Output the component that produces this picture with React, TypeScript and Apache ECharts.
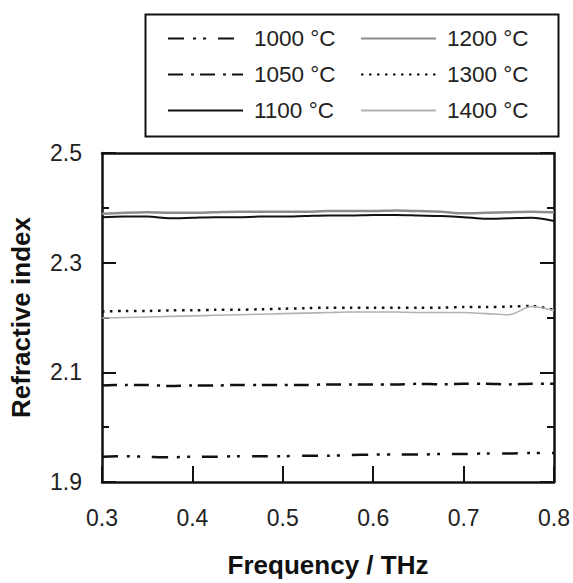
import React, { useEffect, useRef } from "react";
import * as echarts from "echarts";

const frequency = [0.3, 0.325, 0.35, 0.375, 0.4, 0.425, 0.45, 0.475, 0.5, 0.525, 0.55, 0.575, 0.6, 0.625, 0.65, 0.675, 0.7, 0.725, 0.75, 0.775, 0.8];

const n1000 = [1.946, 1.947, 1.946, 1.945, 1.946, 1.946, 1.947, 1.947, 1.947, 1.948, 1.948, 1.949, 1.95, 1.95, 1.95, 1.951, 1.951, 1.952, 1.952, 1.953, 1.953];
const n1050 = [2.076, 2.077, 2.077, 2.075, 2.076, 2.076, 2.077, 2.077, 2.077, 2.077, 2.078, 2.078, 2.078, 2.078, 2.079, 2.078, 2.079, 2.079, 2.078, 2.079, 2.079];
const n1100 = [2.383, 2.384, 2.384, 2.381, 2.382, 2.383, 2.383, 2.384, 2.384, 2.385, 2.386, 2.386, 2.387, 2.387, 2.386, 2.385, 2.383, 2.38, 2.381, 2.382, 2.376];
const n1200 = [2.389, 2.391, 2.392, 2.391, 2.391, 2.392, 2.393, 2.393, 2.393, 2.393, 2.394, 2.394, 2.394, 2.395, 2.394, 2.393, 2.39, 2.391, 2.392, 2.393, 2.392];
const n1300 = [2.211, 2.212, 2.212, 2.213, 2.213, 2.214, 2.214, 2.215, 2.216, 2.217, 2.218, 2.218, 2.218, 2.218, 2.218, 2.218, 2.219, 2.219, 2.22, 2.221, 2.214];
const n1400 = [2.199, 2.2, 2.201, 2.202, 2.203, 2.204, 2.205, 2.206, 2.207, 2.208, 2.209, 2.21, 2.21, 2.21, 2.209, 2.209, 2.209, 2.207, 2.205, 2.22, 2.213];

const seriesNames = ["1000 °C", "1050 °C", "1100 °C", "1200 °C", "1300 °C", "1400 °C"];
const xTicks = [0.3, 0.4, 0.5, 0.6, 0.7, 0.8];
const yTicks = [1.9, 2.1, 2.3, 2.5];

const FONT = "'Liberation Sans', Arial, Helvetica, sans-serif";
const INK = "#111";

function pairs(vals: number[]) {
  return frequency.map((f, i) => [f, vals[i]]);
}

export default function App() {
  const ref = useRef<HTMLDivElement>(null);
  useEffect(() => {
    if (!ref.current) return;
    const chart = echarts.init(ref.current, null, { renderer: "svg" });
    const styles: any[] = [
      { color: INK, width: 2.5, type: [16, 9, 3, 7, 3, 12] },
      { color: INK, width: 2.5, type: [15, 8, 3, 6] },
      { color: INK, width: 2, type: "solid" },
      { color: "#8c8c8c", width: 2.5, type: "solid" },
      { color: INK, width: 2.5, type: [2.5, 5.5] },
      { color: "#b2b2b2", width: 1.6, type: "solid" },
    ];
    const data = [n1000, n1050, n1100, n1200, n1300, n1400];
    const legendCommon = {
      orient: "vertical",
      itemWidth: 75,
      itemHeight: 14,
      itemGap: 13,
      top: 27,
      padding: 0,
      itemStyle: { opacity: 0 },
      textStyle: { fontFamily: FONT, fontSize: 22.5, color: "#222", padding: [0, 0, 0, 6] },
    };
    chart.setOption({
      animation: false,
      backgroundColor: "#fff",
      textStyle: { fontFamily: FONT },
      grid: { left: 101, right: 16, top: 153, bottom: 91, containLabel: false },
      legend: [
        { ...legendCommon, left: 167, data: seriesNames.slice(0, 3) },
        { ...legendCommon, left: 360, data: seriesNames.slice(3, 6) },
      ],
      graphic: [
        {
          type: "rect",
          left: 143,
          top: 12,
          shape: { width: 413, height: 122 },
          style: { fill: "none", stroke: INK, lineWidth: 2 },
          z: 100,
        },
      ],
      xAxis: [
        {
          type: "value",
          min: 0.3,
          max: 0.8,
          interval: 0.1,
          position: "bottom",
          name: "Frequency / THz",
          nameLocation: "middle",
          nameGap: 70,
          nameTextStyle: { fontFamily: FONT, fontSize: 26, fontWeight: "bold", color: "#111" },
          axisLine: { show: true, lineStyle: { color: INK, width: 2.5 } },
          axisTick: { show: true, inside: true, length: 16, lineStyle: { color: INK, width: 2 } },
          axisLabel: {
            fontFamily: FONT,
            fontSize: 23,
            color: "#222",
            margin: 24,
            formatter: (v: number) => {
              const t = xTicks.find((k) => Math.abs(k - v) < 1e-6);
              return t !== undefined ? t.toFixed(1) : "";
            },
          },
          splitLine: { show: false },
        },
        {
          type: "value",
          min: 0.3,
          max: 0.8,
          interval: 0.1,
          position: "top",
          axisLine: { show: true, lineStyle: { color: INK, width: 2.5 } },
          axisTick: { show: false },
          axisLabel: { show: false },
          splitLine: { show: false },
        },
      ],
      yAxis: [
        {
          type: "value",
          min: 1.9,
          max: 2.5,
          interval: 0.2,
          position: "left",
          name: "Refractive index",
          nameLocation: "middle",
          nameRotate: 90,
          nameGap: 68,
          nameTextStyle: { fontFamily: FONT, fontSize: 26, fontWeight: "bold", color: "#111" },
          axisLine: { show: true, lineStyle: { color: INK, width: 2.5 } },
          axisTick: { show: true, inside: true, length: 14, lineStyle: { color: INK, width: 2 } },
          minorTick: { show: true, splitNumber: 2, length: 7, lineStyle: { color: INK, width: 2 } },
          axisLabel: {
            fontFamily: FONT,
            fontSize: 23,
            color: "#222",
            margin: 20,
            formatter: (v: number) => {
              const t = yTicks.find((k) => Math.abs(k - v) < 1e-6);
              return t !== undefined ? t.toFixed(1) : "";
            },
          },
          splitLine: { show: false },
        },
        {
          type: "value",
          min: 1.9,
          max: 2.5,
          interval: 0.2,
          position: "right",
          axisLine: { show: true, lineStyle: { color: INK, width: 2.5 } },
          axisTick: { show: true, inside: true, length: 14, lineStyle: { color: INK, width: 2 } },
          minorTick: { show: true, splitNumber: 2, length: 7, lineStyle: { color: INK, width: 2 } },
          axisLabel: { show: false },
          splitLine: { show: false },
        },
      ],
      series: seriesNames.map((name, i) => ({
        name,
        type: "line",
        xAxisIndex: 0,
        yAxisIndex: 0,
        symbol: "none",
        showSymbol: false,
        smooth: 0.3,
        lineStyle: styles[i],
        itemStyle: { color: styles[i].color },
        data: pairs(data[i]),
        z: i === 3 ? 2 : 3,
      })),
    });
    return () => chart.dispose();
  }, []);
  return <div ref={ref} style={{ position: "fixed", left: 0, top: 0, width: 573, height: 583 }} />;
}
